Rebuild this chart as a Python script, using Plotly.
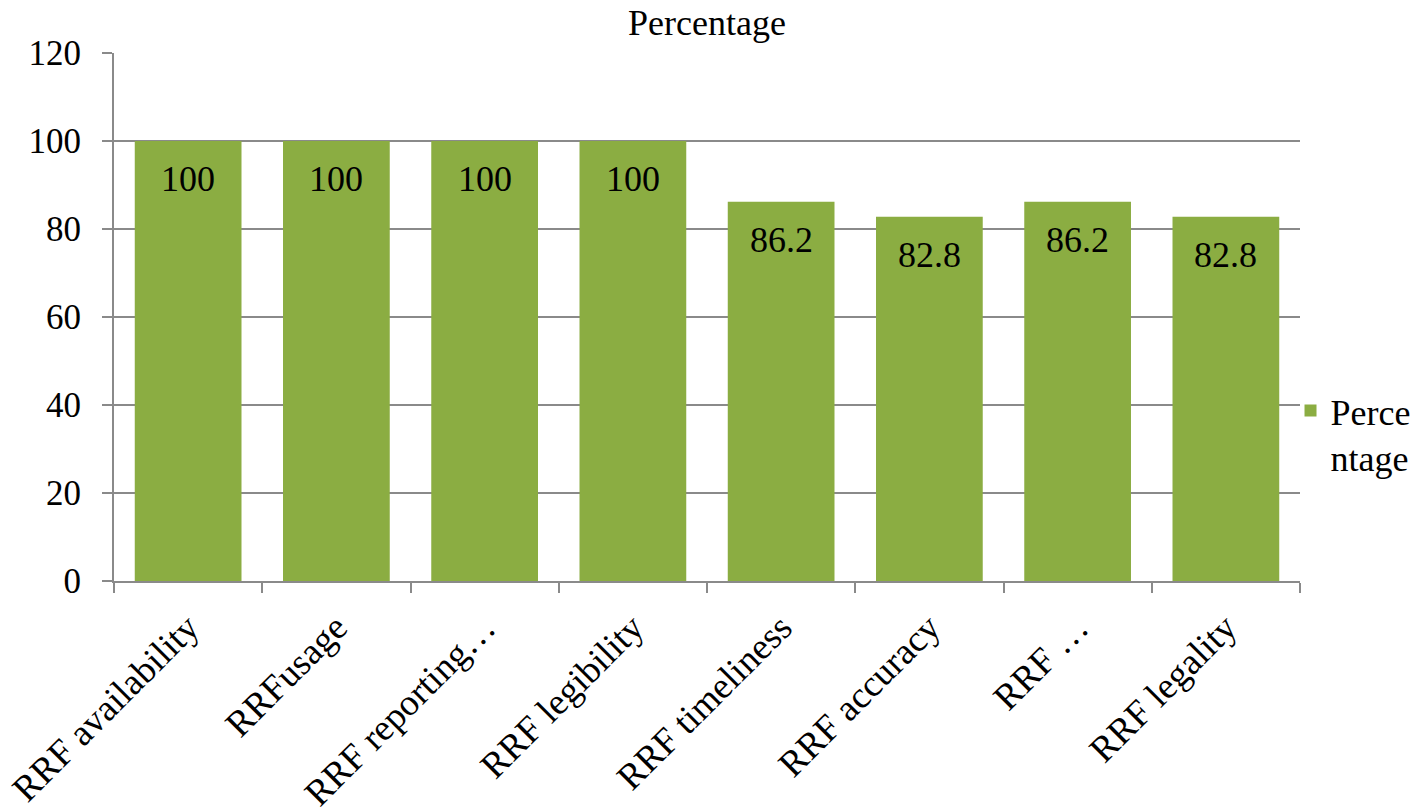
import plotly.graph_objects as go

categories = ['RRF availability', 'RRFusage', 'RRF reporting…', 'RRF legibility',
              'RRF timeliness', 'RRF accuracy', 'RRF …', 'RRF legality']
percentage = [100, 100, 100, 100, 86.2, 82.8, 86.2, 82.8]
label_text = ['100', '100', '100', '100', '86.2', '82.8', '86.2', '82.8']
y_ticks = [0, 20, 40, 60, 80, 100, 120]

serif = 'Liberation Serif'
grid_col = '#8a8a8a'

fig = go.Figure()

fig.add_trace(go.Bar(
    x=categories,
    y=percentage,
    name='Perce<br>ntage',
    marker=dict(color='#8bad42', line=dict(width=0)),
    width=0.72,
    showlegend=True,
))

# value labels sit inside the bar, a bit below the top
for cat, val, txt in zip(categories, percentage, label_text):
    fig.add_annotation(
        x=cat, y=val, text=txt, showarrow=False,
        yanchor='top', yshift=-16,
        font=dict(family=serif, size=36, color='black'),
    )

# chart title, placed close to the top edge like the original
fig.add_annotation(
    text='Percentage', xref='paper', yref='paper', x=0.5, y=1.0,
    xanchor='center', yanchor='middle', yshift=30, showarrow=False,
    font=dict(family=serif, size=36, color='black'),
)

# page body adds an 8px offset, margins are set to compensate
fig.update_layout(
    width=1418, height=808,
    margin=dict(l=106, r=126, t=45, b=235, autoexpand=False),
    paper_bgcolor='white', plot_bgcolor='white',
    font=dict(family=serif, color='black'),
    legend=dict(x=0.992, xanchor='left', y=0.278, yanchor='middle',
                font=dict(family=serif, size=36, color='black'),
                valign='top', itemwidth=30, bgcolor='rgba(0,0,0,0)'),
)

fig.update_xaxes(
    type='category',
    tickangle=-45,
    tickson='boundaries',
    ticks='outside', ticklen=10, tickwidth=2, tickcolor=grid_col,
    ticklabelstandoff=8,
    showline=True, linecolor=grid_col, linewidth=2,
    showgrid=False, automargin=False,
    tickfont=dict(family=serif, size=37, color='black'),
)

fig.update_yaxes(
    range=[0, 120],
    tickvals=y_ticks,
    ticks='outside', ticklen=10, tickwidth=2, tickcolor=grid_col,
    ticklabelstandoff=14,
    showline=True, linecolor=grid_col, linewidth=2,
    showgrid=True, gridcolor=grid_col, gridwidth=2,
    zeroline=False, automargin=False,
    tickfont=dict(family=serif, size=35, color='black'),
)

fig.write_html('out.html')
